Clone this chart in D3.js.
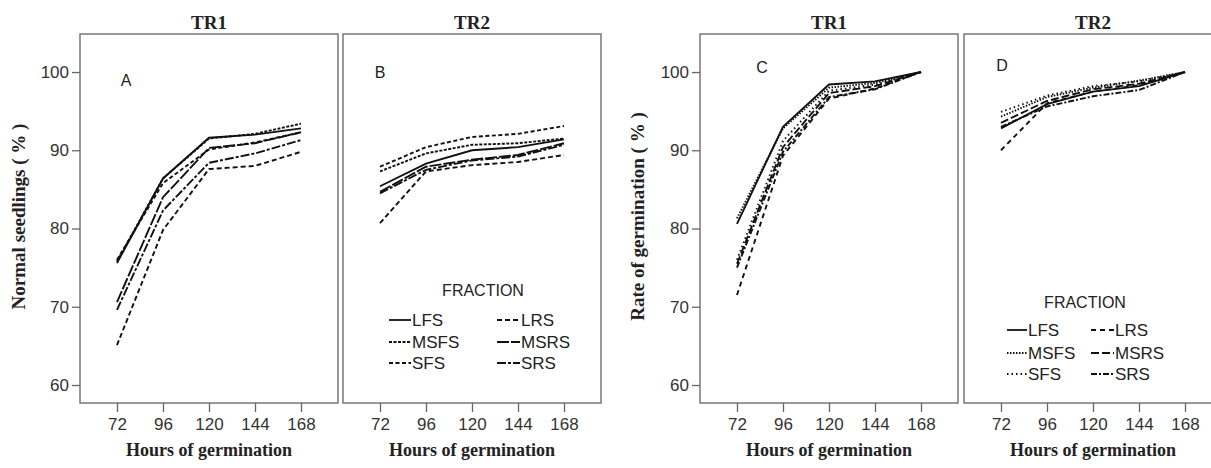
<!DOCTYPE html>
<html><head><meta charset="utf-8">
<script src="https://cdn.jsdelivr.net/npm/d3@7"></script>
<style>
body{margin:0;background:#fff;}
svg{display:block;}
.tick text{font-family:"Liberation Sans",Arial,sans-serif;font-size:17px;fill:#333;}
.tick line{stroke:#666;stroke-width:1.3;}
</style></head>
<body>
<svg id="c" width="1211" height="468"></svg>
<script>
// ---- data ----
const hours = [72, 96, 120, 144, 168];
const hourTicks = ["72", "96", "120", "144", "168"];
const yTicks = [60, 70, 80, 90, 100];
const fractions = ["LFS", "MSFS", "SFS", "LRS", "MSRS", "SRS"];
const panelTitles = ["TR1", "TR2", "TR1", "TR2"];
const panelLetters = ["A", "B", "C", "D"];
const yLabels = ["Normal seedlings ( % )", "Rate of germination ( % )"];
const xLabel = "Hours of germination";
const legendTitle = "FRACTION";

// Normal seedlings (%), TR1 — rows follow `fractions`
const normalTR1 = [
  [75.6, 86.4, 91.6, 92.0, 92.8],
  [75.8, 86.4, 91.5, 92.1, 93.4],
  [76.0, 85.8, 90.1, 91.0, 92.3],
  [65.1, 79.8, 87.6, 88.0, 89.8],
  [70.6, 84.0, 90.3, 90.9, 92.3],
  [69.6, 82.3, 88.4, 89.6, 91.3]
];
// Normal seedlings (%), TR2
const normalTR2 = [
  [85.4, 88.3, 90.0, 90.4, 91.4],
  [87.3, 89.6, 90.7, 90.9, 91.5],
  [87.9, 90.4, 91.7, 92.1, 93.1],
  [80.7, 87.3, 88.1, 88.5, 89.4],
  [84.7, 87.9, 88.8, 89.4, 90.9],
  [84.5, 87.5, 88.7, 89.2, 90.7]
];
// Rate of germination (%), TR1
const rateTR1 = [
  [80.6, 93.0, 98.4, 98.8, 100],
  [81.3, 92.8, 98.0, 98.6, 100],
  [76.0, 91.2, 97.6, 98.4, 100],
  [71.5, 89.3, 96.6, 97.9, 100],
  [75.5, 90.4, 97.3, 98.2, 100],
  [75.0, 89.8, 96.8, 97.8, 100]
];
// Rate of germination (%), TR2
const rateTR2 = [
  [92.8, 95.9, 97.5, 98.2, 100],
  [94.3, 96.8, 98.0, 98.9, 100],
  [94.9, 97.0, 98.2, 98.8, 100],
  [90.0, 96.0, 97.5, 98.3, 100],
  [93.5, 96.3, 97.8, 98.5, 100],
  [93.0, 95.6, 96.9, 97.7, 100]
];

// ---- styles / layout ----
const dashAB = {LFS:null, MSFS:"3,1.5", SFS:"4,2.5", LRS:"5,3", MSRS:"12,2", SRS:"9,2,3,2"};
const dashCD = {LFS:null, MSFS:"1.5,1.5", SFS:"1.5,3", LRS:"5,4", MSRS:"8,3", SRS:"6,2,2,2"};

const svg = d3.select("#c");
const yTop = 34, yBottom = 403, pw = 258;
const y = d3.scaleLinear().domain([57.7, 104.86]).range([yBottom, yTop]);

const panels = [
  {left:80,  data:normalTR1, dash:dashAB, yAxis:true, ylab:yLabels[0], ylabX:18, letterDX:46, letterY:80, legend:null},
  {left:343, data:normalTR2, dash:dashAB, yAxis:false, letterDX:37, letterY:72,
   legend:{titleX:483, titleY:290, rows:[320,342,363], cols:[[389,411],[497,520]]}},
  {left:700, data:rateTR1, dash:dashCD, yAxis:true, ylab:yLabels[1], ylabX:637, letterDX:62, letterY:67, legend:null},
  {left:964, data:rateTR2, dash:dashCD, yAxis:false, letterDX:38, letterY:65,
   legend:{titleX:1085, titleY:302, rows:[330,353,374], cols:[[1007,1027],[1091,1114]]}}
];

panels.forEach((p, i) => {
  const x = d3.scaleLinear().domain([52.7, 187.3]).range([p.left, p.left + pw]);
  const g = svg.append("g");

  g.append("rect").attr("x", p.left).attr("y", yTop).attr("width", pw).attr("height", yBottom - yTop)
    .attr("fill", "none").attr("stroke", "#6e6e6e").attr("stroke-width", 1.4);

  const xa = g.append("g").attr("transform", `translate(0,${yBottom})`)
    .call(d3.axisBottom(x).tickValues(hours).tickFormat((d, k) => hourTicks[k]).tickSize(9).tickSizeOuter(0).tickPadding(6));
  xa.select(".domain").remove();

  g.append("text").attr("x", x(120)).attr("y", 456).attr("text-anchor", "middle")
    .style("font-family", "'Liberation Serif','Times New Roman',serif").style("font-weight", "bold")
    .style("font-size", "18px").attr("fill", "#222").text(xLabel);

  if (p.yAxis) {
    const ya = g.append("g").attr("transform", `translate(${p.left},0)`)
      .call(d3.axisLeft(y).tickValues(yTicks).tickSize(8).tickSizeOuter(0).tickPadding(3));
    ya.select(".domain").remove();
    g.append("text").attr("transform", `translate(${p.ylabX},${(yTop + yBottom) / 2 - 2}) rotate(-90)`)
      .attr("text-anchor", "middle").attr("dy", "0.35em")
      .style("font-family", "'Liberation Serif','Times New Roman',serif").style("font-weight", "bold")
      .style("font-size", "19px").attr("fill", "#222").text(p.ylab);
  }

  g.append("text").attr("x", x(120)).attr("y", 29).attr("text-anchor", "middle")
    .style("font-family", "'Liberation Serif','Times New Roman',serif").style("font-weight", "bold")
    .style("font-size", "19px").attr("fill", "#222").text(panelTitles[i]);

  g.append("text").attr("x", p.left + p.letterDX).attr("y", p.letterY).attr("dy", "0.35em")
    .attr("text-anchor", "middle")
    .style("font-family", "'Liberation Sans',Arial,sans-serif").style("font-size", "16px")
    .attr("fill", "#222").text(panelLetters[i]);

  const line = d3.line().x((d, k) => x(hours[k])).y(d => y(d));
  p.data.forEach((vals, k) => {
    g.append("path").datum(vals).attr("d", line).attr("fill", "none")
      .attr("stroke", "#111").attr("stroke-width", 1.9)
      .attr("stroke-dasharray", p.dash[fractions[k]]);
  });

  if (p.legend) {
    const L = p.legend;
    g.append("text").attr("x", L.titleX).attr("y", L.titleY).attr("dy", "0.35em").attr("text-anchor", "middle")
      .style("font-family", "'Liberation Sans',Arial,sans-serif").style("font-size", "16px")
      .attr("fill", "#222").text(legendTitle);
    fractions.forEach((f, k) => {
      const col = L.cols[Math.floor(k / 3)], ry = L.rows[k % 3];
      g.append("line").attr("x1", col[0]).attr("x2", col[1]).attr("y1", ry).attr("y2", ry)
        .attr("stroke", "#111").attr("stroke-width", 1.8).attr("stroke-dasharray", p.dash[f]);
      g.append("text").attr("x", col[1] + 1).attr("y", ry).attr("dy", "0.36em")
        .style("font-family", "'Liberation Sans',Arial,sans-serif").style("font-size", "17px")
        .attr("fill", "#222").text(f);
    });
  }
});
</script>
</body></html>
